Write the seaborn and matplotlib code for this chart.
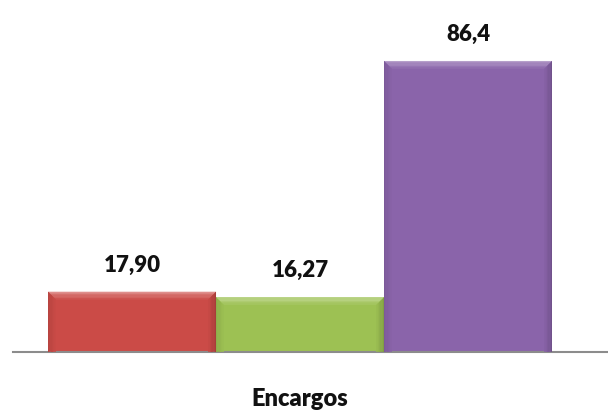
import matplotlib
matplotlib.use("Agg")
import matplotlib.pyplot as plt
import matplotlib.colors as mcolors
from matplotlib.patches import Polygon
import seaborn as sns
import pandas as pd

categories = ["Encargos"]
series = ["Serie 1", "Serie 2", "Serie 3"]
values = [17.90, 16.27, 86.4]
labels = ["17,90", "16,27", "86,4"]
colors = ["#CB4B47", "#9DC153", "#8A64AA"]

sns.set_theme(style="white")
plt.rcParams["font.family"] = ["Lato", "DejaVu Sans"]

df = pd.DataFrame({"cat": categories * len(series), "serie": series, "valor": values})

fig = plt.figure(figsize=(6.08, 4.14), dpi=100)
ax = fig.add_axes([13 / 608, 61 / 414, 595 / 608, 353 / 414])

sns.barplot(data=df, x="cat", y="valor", hue="serie", palette=colors,
            saturation=1, width=0.8, ax=ax, legend=False, edgecolor="none")

ax.set_xlim(-0.4556, 0.4889)
ax.set_ylim(0, 104.8)

def shade(c, f):
    r, g, b = mcolors.to_rgb(c)
    if f > 0:
        return (r + (1 - r) * f, g + (1 - g) * f, b + (1 - b) * f)
    return (r * (1 + f), g * (1 + f), b * (1 + f))

# bevelled edges derived from each bar's own extent
bars = [p for p in ax.patches if p.get_height() > 0]
bars.sort(key=lambda p: p.get_x())
to_data = ax.transData.inverted()
for p, c, lab in zip(bars, colors, labels):
    x0, y0 = p.get_x(), p.get_y()
    x1, y1 = x0 + p.get_width(), y0 + p.get_height()
    (px0, py0) = ax.transData.transform((x0, y0))
    (px1, py1) = ax.transData.transform((x1, y1))

    def pt(px, py):
        return to_data.transform((px, py))

    # soft graded bevel: several thin rings fading towards the face
    steps = 6
    for k in range(steps):
        a = k * 1.3
        b = (k + 1) * 1.3
        f = 1 - k / steps
        top = [pt(px0 + a, py1 - a), pt(px1 - a, py1 - a), pt(px1 - b, py1 - b), pt(px0 + b, py1 - b)]
        left = [pt(px0 + a, py0), pt(px0 + a, py1 - a), pt(px0 + b, py1 - b), pt(px0 + b, py0)]
        right = [pt(px1 - a, py0), pt(px1 - a, py1 - a), pt(px1 - b, py1 - b), pt(px1 - b, py0)]
        ax.add_patch(Polygon(top, closed=True, facecolor=shade(c, 0.38 * f), edgecolor="none", zorder=3))
        ax.add_patch(Polygon(left, closed=True, facecolor=shade(c, -0.10 * f), edgecolor="none", zorder=3))
        ax.add_patch(Polygon(right, closed=True, facecolor=shade(c, -0.18 * f), edgecolor="none", zorder=3))
    ax.text((x0 + x1) / 2, y1 + 5.0, lab, ha="center", va="bottom",
            fontsize=16, fontweight="heavy", color="#111111")

for s in ["top", "right", "left"]:
    ax.spines[s].set_visible(False)
ax.spines["bottom"].set_color("#8C8C8C")
ax.spines["bottom"].set_linewidth(1.5)
ax.set_yticks([])
ax.set_xlabel("")
ax.set_ylabel("")
ax.tick_params(axis="x", length=0, pad=25, labelsize=17)
for t in ax.get_xticklabels():
    t.set_fontweight("heavy")
    t.set_color("#111111")

fig.savefig("out.png", dpi=100)
